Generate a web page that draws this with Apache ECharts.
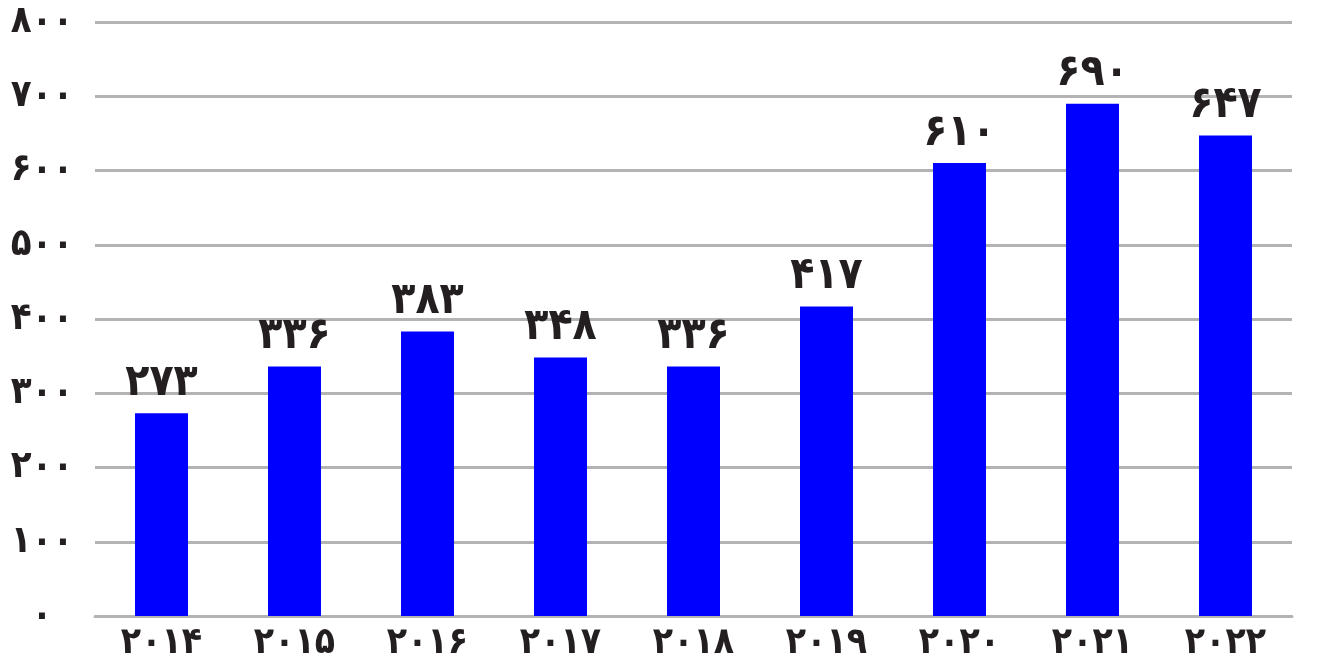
<!DOCTYPE html>
<html>
<head>
<meta charset="utf-8">
<script src="https://cdn.jsdelivr.net/npm/echarts@6/dist/echarts.min.js"></script>
<style>
  html, body { margin: 0; padding: 0; background: #fff; }
  #chart { width: 1325px; height: 668px; }
</style>
</head>
<body>
<div id="chart"></div>
<script>
const years = [2014, 2015, 2016, 2017, 2018, 2019, 2020, 2021, 2022]
const values = [273, 336, 383, 348, 336, 417, 610, 690, 647]
const yTicks = [0, 100, 200, 300, 400, 500, 600, 700, 800]

// convert latin digits to persian digits
const faDigits = ['۰', '۱', '۲', '۳', '۴', '۵', '۶', '۷', '۸', '۹']
const toFa = n => String(n).replace(/[0-9]/g, d => faDigits[+d])

const font = '"DejaVu Sans Condensed", "DejaVu Sans", sans-serif'
const textColor = '#231f20'

const chart = echarts.init(document.getElementById('chart'))
chart.setOption({
  animation: false,
  grid: { left: 95, right: 33, top: 22, bottom: 52, outerBoundsMode: 'none' },
  xAxis: {
    type: 'category',
    data: years.map(toFa),
    axisLine: { show: true, lineStyle: { color: '#b3b3b3', width: 3 } },
    axisTick: { show: false },
    axisLabel: {
      margin: 9,
      fontFamily: font,
      fontWeight: 'bold',
      fontSize: 37,
      color: textColor,
    },
  },
  yAxis: {
    type: 'value',
    min: yTicks[0],
    max: yTicks[yTicks.length - 1],
    interval: 100,
    axisLine: { show: false },
    axisTick: { show: false },
    splitLine: { lineStyle: { color: '#b3b3b3', width: 3 } },
    axisLabel: {
      align: 'center',
      margin: 53,
      fontFamily: font,
      fontWeight: 'bold',
      fontSize: 38,
      color: textColor,
      formatter: v => toFa(v),
    },
  },
  series: [
    {
      type: 'bar',
      data: values,
      barWidth: 53,
      itemStyle: { color: '#0000ff' },
      label: {
        show: true,
        position: 'top',
        distance: 8,
        fontFamily: font,
        fontWeight: 'bold',
        fontSize: 44,
        color: textColor,
        formatter: p => toFa(p.value),
      },
    },
  ],
})
</script>
</body>
</html>
